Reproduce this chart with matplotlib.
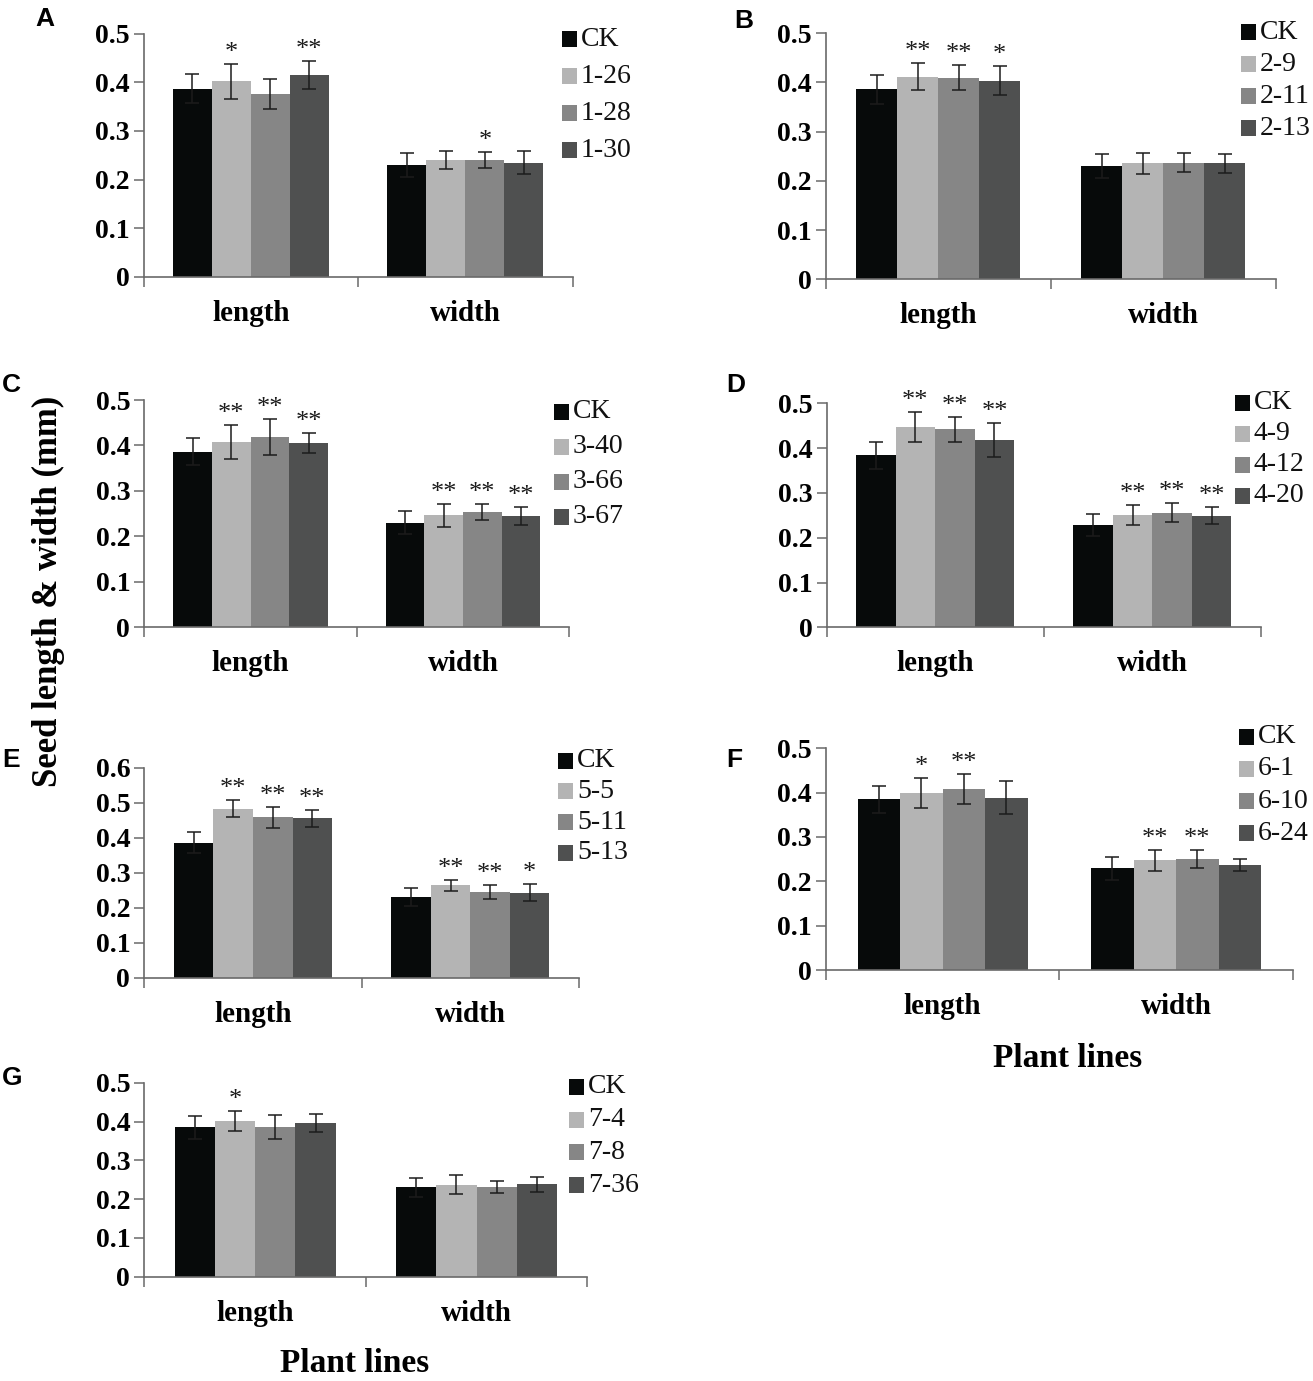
import matplotlib
matplotlib.use('Agg')
import matplotlib.pyplot as plt
from matplotlib.patches import Rectangle
import numpy as np

plt.rcParams['font.family'] = ['Liberation Serif', 'DejaVu Serif']

W, H, DPI = 1313, 1381, 100

categories = ['length', 'width']
bar_colors = ['#070a0a', '#b4b4b4', '#868686', '#4f5050']

# ---------------- data ----------------
a_lines = ['CK', '1-26', '1-28', '1-30']
a_length = [0.387, 0.402, 0.376, 0.415]
a_length_err = [0.030, 0.036, 0.031, 0.029]
a_width = [0.230, 0.240, 0.240, 0.235]
a_width_err = [0.025, 0.018, 0.016, 0.023]
a_length_sig = ['', '*', '', '**']
a_width_sig = ['', '', '*', '']

b_lines = ['CK', '2-9', '2-11', '2-13']
b_length = [0.386, 0.412, 0.410, 0.404]
b_length_err = [0.030, 0.027, 0.026, 0.030]
b_width = [0.230, 0.236, 0.237, 0.236]
b_width_err = [0.024, 0.021, 0.019, 0.019]
b_length_sig = ['', '**', '**', '*']
b_width_sig = ['', '', '', '']

c_lines = ['CK', '3-40', '3-66', '3-67']
c_length = [0.386, 0.407, 0.419, 0.405]
c_length_err = [0.030, 0.037, 0.040, 0.022]
c_width = [0.230, 0.246, 0.254, 0.245]
c_width_err = [0.025, 0.025, 0.018, 0.020]
c_length_sig = ['', '**', '**', '**']
c_width_sig = ['', '**', '**', '**']

d_lines = ['CK', '4-9', '4-12', '4-20']
d_length = [0.384, 0.447, 0.442, 0.419]
d_length_err = [0.030, 0.034, 0.028, 0.038]
d_width = [0.229, 0.251, 0.256, 0.249]
d_width_err = [0.025, 0.023, 0.022, 0.019]
d_length_sig = ['', '**', '**', '**']
d_width_sig = ['', '**', '**', '**']

e_lines = ['CK', '5-5', '5-11', '5-13']
e_length = [0.386, 0.483, 0.458, 0.456]
e_length_err = [0.030, 0.024, 0.029, 0.024]
e_width = [0.231, 0.264, 0.246, 0.243]
e_width_err = [0.025, 0.015, 0.020, 0.024]
e_length_sig = ['', '**', '**', '**']
e_width_sig = ['', '**', '**', '*']

f_lines = ['CK', '6-1', '6-10', '6-24']
f_length = [0.385, 0.399, 0.408, 0.389]
f_length_err = [0.030, 0.034, 0.034, 0.037]
f_width = [0.229, 0.247, 0.250, 0.237]
f_width_err = [0.025, 0.023, 0.020, 0.014]
f_length_sig = ['', '*', '**', '']
f_width_sig = ['', '**', '**', '']

g_lines = ['CK', '7-4', '7-8', '7-36']
g_length = [0.385, 0.401, 0.385, 0.396]
g_length_err = [0.029, 0.025, 0.031, 0.024]
g_width = [0.230, 0.237, 0.231, 0.238]
g_width_err = [0.024, 0.025, 0.016, 0.019]
g_length_sig = ['', '*', '', '']
g_width_sig = ['', '', '', '']

panels = [
    dict(letter='A', lines=a_lines, length=a_length, length_err=a_length_err, width=a_width,
         width_err=a_width_err, length_sig=a_length_sig, width_sig=a_width_sig, ymax=0.5,
         box=(143.5, 572.6, 33.5, 277.0), leg=(562, 39.3, 36.9), let=(35, 7)),
    dict(letter='B', lines=b_lines, length=b_length, length_err=b_length_err, width=b_width,
         width_err=b_width_err, length_sig=b_length_sig, width_sig=b_width_sig, ymax=0.5,
         box=(825.8, 1275.6, 33.3, 279.3), leg=(1241, 32.3, 32.0), let=(734, 9)),
    dict(letter='C', lines=c_lines, length=c_length, length_err=c_length_err, width=c_width,
         width_err=c_width_err, length_sig=c_length_sig, width_sig=c_width_sig, ymax=0.5,
         box=(144.4, 569.2, 400.0, 627.3), leg=(554, 411.7, 35.0), let=(2, 373)),
    dict(letter='D', lines=d_lines, length=d_length, length_err=d_length_err, width=d_width,
         width_err=d_width_err, length_sig=d_length_sig, width_sig=d_width_sig, ymax=0.5,
         box=(826.6, 1261.0, 403.3, 627.3), leg=(1235, 402.7, 31.0), let=(726, 373)),
    dict(letter='E', lines=e_lines, length=e_length, length_err=e_length_err, width=e_width,
         width_err=e_width_err, length_sig=e_length_sig, width_sig=e_width_sig, ymax=0.6,
         box=(144.4, 578.9, 767.7, 977.7), leg=(558, 760.7, 30.7), let=(2, 748)),
    dict(letter='F', lines=f_lines, length=f_length, length_err=f_length_err, width=f_width,
         width_err=f_width_err, length_sig=f_length_sig, width_sig=f_width_sig, ymax=0.5,
         box=(825.8, 1293.0, 748.3, 970.0), leg=(1239, 736.7, 32.2), let=(726, 748)),
    dict(letter='G', lines=g_lines, length=g_length, length_err=g_length_err, width=g_width,
         width_err=g_width_err, length_sig=g_length_sig, width_sig=g_width_sig, ymax=0.5,
         box=(144.4, 587.3, 1082.7, 1276.7), leg=(569, 1086.7, 32.8), let=(2, 1066)),
]

fig = plt.figure(figsize=(W / DPI, H / DPI), dpi=DPI)
fig.patch.set_facecolor('white')

spine_col = '#6a6a6a'
bw = 0.182

for p in panels:
    L, R, T, B = p['box']
    ax = fig.add_axes([L / W, 1 - B / H, (R - L) / W, (B - T) / H])
    x = np.arange(len(categories))
    n = len(p['lines'])
    for i in range(n):
        vals = [p['length'][i], p['width'][i]]
        errs = [p['length_err'][i], p['width_err'][i]]
        sigs = [p['length_sig'][i], p['width_sig'][i]]
        xi = x + (i - (n - 1) / 2) * bw
        ax.bar(xi, vals, bw, color=bar_colors[i], linewidth=0, yerr=errs, capsize=4.8,
               error_kw=dict(ecolor='#1c1c1c', elinewidth=1.1, capthick=1.1))
        for xx, v, e, s in zip(xi, vals, errs, sigs):
            if s:
                ax.annotate(s, (xx, v + e), xytext=(0, 0), textcoords='offset points',
                            ha='center', va='bottom', fontsize=19, color='#1a1a1a')
    ax.set_xlim(-0.5, 1.5)
    ax.set_ylim(0, p['ymax'])
    yt = np.round(np.arange(0, p['ymax'] + 0.001, 0.1), 1)
    ax.set_yticks(yt)
    ax.set_yticklabels(['0' if v == 0 else f'{v:.1f}' for v in yt], fontsize=20, fontweight='bold')
    ax.set_xticks([-0.5, 0.5, 1.5])
    ax.set_xticklabels([])
    ax.set_xticks(x, minor=True)
    ax.set_xticklabels(categories, minor=True, fontsize=21, fontweight='bold')
    ax.tick_params(axis='x', which='major', length=7.5, width=1.1, color=spine_col, direction='out')
    ax.tick_params(axis='x', which='minor', length=0, pad=16.5)
    ax.tick_params(axis='y', which='major', length=7.2, width=1.1, color=spine_col, pad=3)
    for s in ('top', 'right'):
        ax.spines[s].set_visible(False)
    for s in ('left', 'bottom'):
        ax.spines[s].set_color(spine_col)
        ax.spines[s].set_linewidth(1.2)
    ax.set_facecolor('none')

ov = fig.add_axes([0, 0, 1, 1])
ov.set_xlim(0, W)
ov.set_ylim(H, 0)
ov.axis('off')

for p in panels:
    xsq, y0, dy = p['leg']
    for i, (lab, col) in enumerate(zip(p['lines'], bar_colors)):
        y = y0 + i * dy
        ov.add_patch(Rectangle((xsq, y - 8), 15, 16, color=col, lw=0))
        ov.text(xsq + 19, y, lab, ha='left', va='center', fontsize=20, color='#111111')
    lx, ly = p['let']
    ov.text(lx, ly, p['letter'], ha='left', va='top', fontsize=19, fontweight='bold',
            family=['Liberation Sans', 'DejaVu Sans'])

ov.text(48, 591.5, 'Seed length & width (mm)', rotation=90, ha='center', va='center',
        fontsize=25, fontweight='bold')
ov.text(1068, 1058.5, 'Plant lines', ha='center', va='center', fontsize=24, fontweight='bold')
ov.text(355, 1364, 'Plant lines', ha='center', va='center', fontsize=24, fontweight='bold')

fig.savefig('out.png', dpi=DPI)
